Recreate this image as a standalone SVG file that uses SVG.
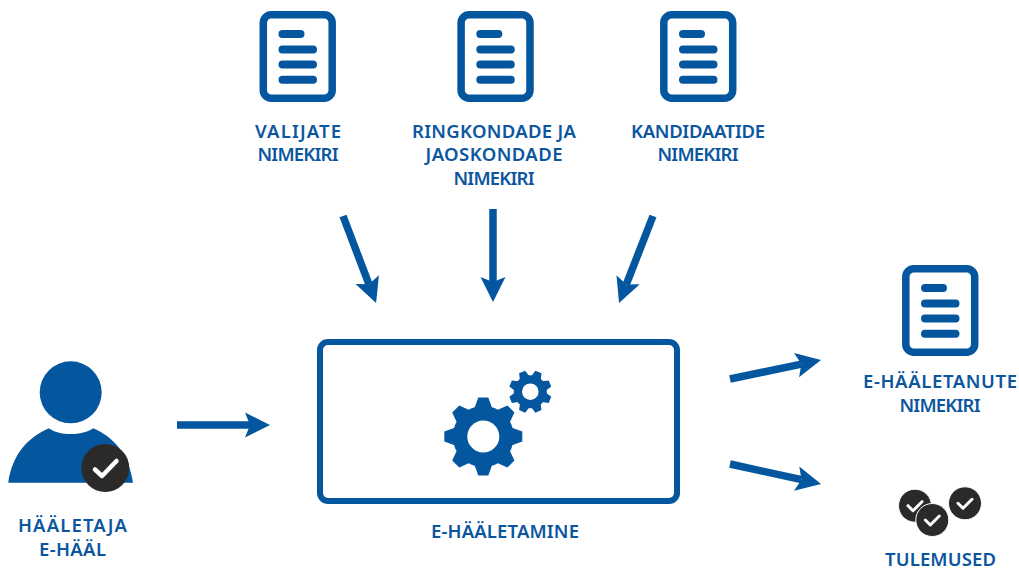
<svg xmlns="http://www.w3.org/2000/svg" width="1019" height="569" viewBox="0 0 1019 569">
<style>
text{font-family:"Noto Sans","Open Sans",sans-serif;font-weight:600;font-size:18.5px;fill:#0b569f;text-anchor:middle}
.b{fill:#04569f}
.frame{fill:none;stroke:#04569f;stroke-width:7.5}
.ln{fill:none;stroke:#04569f;stroke-width:8;stroke-linecap:round}
.conn{fill:none;stroke:#04569f;stroke-width:7.5;marker-end:url(#ah)}
.dark{fill:#2b2a29}
.chk{fill:none;stroke:#fff;stroke-width:4;stroke-linecap:round;stroke-linejoin:round}
</style>
<defs>
<marker id="ah" markerUnits="userSpaceOnUse" viewBox="0 -13 26 26" refX="5" refY="0" markerWidth="26" markerHeight="26" orient="auto"><path d="M0,-12.5L25,0L0,12.5L5,0Z" fill="#04569f"/></marker>
<g id="doc">
<rect class="frame" x="3.8" y="3.8" width="68.9" height="83.5" rx="8"/>
<path class="ln" d="M23,23H41M23,38.5H53.5M23,53.5H53.5M23,68.7H53.5"/>
</g>
<polygon id="t1" class="b" points="-9,-28 -5,-39 5,-39 9,-28"/>
<polygon id="t2" class="b" points="-5,-15 -3.3,-21.3 3.3,-21.3 5,-15"/>
<g id="vote"><circle class="dark" r="16.5" stroke="#fff" stroke-width="1"/><path class="chk" style="stroke-width:3" d="M-7,0L-2,5L7,-4"/></g>
</defs>
<g id="connectors">
<path class="conn" d="M177,425H250"/>
<path class="conn" d="M343,216L369,284.3"/>
<path class="conn" d="M493,209V282"/>
<path class="conn" d="M653,216L626.3,284.4"/>
<path class="conn" d="M730,379L801.4,364.1"/>
<path class="conn" d="M730,464L801.5,479.7"/>
</g>
<g id="doc-valijate"><use href="#doc" x="259.5" y="11"/><text x="298" y="137.5" textLength="86">VALIJATE</text><text x="298" y="161" textLength="81">NIMEKIRI</text></g>
<g id="doc-ringkonnad"><use href="#doc" x="457.3" y="11"/><text x="494" y="137.5" textLength="164">RINGKONDADE JA</text><text x="494" y="161" textLength="137">JAOSKONDADE</text><text x="494" y="184.5" textLength="81">NIMEKIRI</text></g>
<g id="doc-kandidaadid"><use href="#doc" x="660" y="11"/><text x="698" y="137.5" textLength="134">KANDIDAATIDE</text><text x="698" y="161" textLength="81">NIMEKIRI</text></g>
<g id="doc-e-haaletanud"><use href="#doc" x="902" y="265"/><text x="940" y="388" textLength="154">E-HÄÄLETANUTE</text><text x="940" y="412" textLength="81">NIMEKIRI</text></g>
<g id="haaletaja">
<circle class="b" cx="70.7" cy="392.3" r="31"/>
<path class="b" d="M8.3,482.7C12,455 28,437 49,428.3C58,436 83,436 93.3,428.3C114,437 129,455 133,482.7Z"/>
<circle class="dark" cx="105.3" cy="468" r="24"/>
<path class="chk" style="stroke-width:4.5" d="M95,469.5L102,476L116.5,461"/>
<text x="72.5" y="532" textLength="109">HÄÄLETAJA</text><text x="72.5" y="556" textLength="67">E-HÄÄL</text>
</g>
<g id="e-haaletamine">
<rect x="320" y="342" width="357" height="159" rx="8" fill="none" stroke="#04569f" stroke-width="6"/>
<g transform="translate(483.3,436.5)">
<circle class="b" r="30.5"/>
<use href="#t1"/><use href="#t1" transform="rotate(45)"/><use href="#t1" transform="rotate(90)"/><use href="#t1" transform="rotate(135)"/><use href="#t1" transform="rotate(180)"/><use href="#t1" transform="rotate(225)"/><use href="#t1" transform="rotate(270)"/><use href="#t1" transform="rotate(315)"/>
<circle r="16" fill="#fff"/>
</g>
<g transform="translate(530.3,391.7)">
<circle class="b" r="16.5"/>
<use href="#t2" transform="rotate(22.5)"/><use href="#t2" transform="rotate(67.5)"/><use href="#t2" transform="rotate(112.5)"/><use href="#t2" transform="rotate(157.5)"/><use href="#t2" transform="rotate(202.5)"/><use href="#t2" transform="rotate(247.5)"/><use href="#t2" transform="rotate(292.5)"/><use href="#t2" transform="rotate(337.5)"/>
<circle r="8.3" fill="#fff"/>
</g>
<text x="505" y="538" textLength="148">E-HÄÄLETAMINE</text>
</g>
<g id="tulemused">
<use href="#vote" x="915" y="505.7"/><use href="#vote" x="965" y="503.3"/><use href="#vote" x="932.3" y="520"/>
<text x="940.5" y="566" textLength="111">TULEMUSED</text>
</g>
</svg>
